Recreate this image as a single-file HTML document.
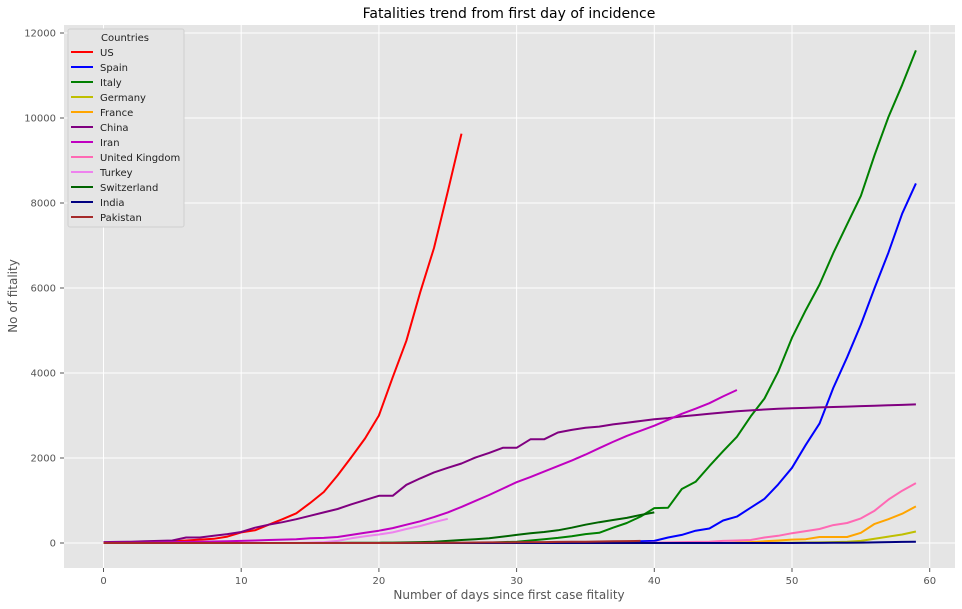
<!DOCTYPE html>
<html><head><meta charset="utf-8">
<style>
body{margin:0;background:#fff;}
svg{display:block;font-family:"DejaVu Sans","Liberation Sans",sans-serif;}
</style></head>
<body>
<svg id="chart" width="962" height="609">
<rect x="64" y="25" width="891" height="543" fill="#e5e5e5"/>
<g id="grid"></g>
<g id="axes"></g>
<g id="lines"></g>
<text x="509" y="18" text-anchor="middle" font-size="14" fill="#000">Fatalities trend from first day of incidence</text>
<text x="509" y="599" text-anchor="middle" font-size="12" fill="#555">Number of days since first case fitality</text>
<text x="17" y="296" text-anchor="middle" font-size="12" fill="#555" transform="rotate(-90 17 296)">No of fitality</text>
<g id="legend"></g>
</svg>
<script>
const xTicks=[0,10,20,30,40,50,60];
const yTicks=[0,2000,4000,6000,8000,10000,12000];
const names=["US","Spain","Italy","Germany","France","China","Iran","United Kingdom","Turkey","Switzerland","India","Pakistan"];
const colors=["#ff0000","#0000ff","#008000","#bfbf00","#ffa500","#800080","#c000c0","#ff69b4","#ee82ee","#006400","#000080","#a52a2a"];
const usVals=[10,12,15,20,25,35,60,80,100,150,250,300,430,560,700,940,1200,1590,2020,2460,3000,3900,4760,5900,6940,8270,9630];
const spainVals=[0,0,0,0,0,0,0,0,0,0,0,0,0,0,0,0,0,0,0,0,0,0,0,0,0,0,0,0,0,0,0,0,0,0,0,0,0,0,10,40,50,130,190,290,340,530,620,830,1040,1380,1770,2310,2810,3650,4370,5140,6000,6830,7750,8460];
const italyVals=[0,0,0,0,0,0,0,0,0,0,0,0,0,0,0,0,0,0,0,0,0,0,0,0,0,0,0,0,10,20,30,60,90,120,160,210,240,360,470,620,820,830,1270,1440,1810,2160,2500,2980,3400,4030,4830,5480,6080,6820,7500,8170,9130,10020,10780,11590];
const germanyVals=[0,0,0,0,0,0,0,0,0,0,0,0,0,0,0,0,0,0,0,0,0,0,0,0,0,0,0,0,0,0,0,0,0,0,0,0,0,0,0,0,0,0,0,0,0,0,0,3,5,8,10,12,14,20,30,50,100,150,200,270];
const franceVals=[0,0,0,0,0,0,0,0,0,0,0,0,0,0,0,0,0,0,0,0,0,0,0,0,0,0,0,0,0,0,0,0,0,0,0,0,0,0,0,0,0,0,0,0,0,0,10,20,40,60,80,90,140,140,140,240,450,560,690,860];
const chinaVals=[20,25,30,40,50,60,130,130,170,210,260,360,430,490,560,640,720,800,910,1010,1110,1110,1370,1520,1660,1770,1870,2010,2120,2240,2240,2440,2440,2600,2660,2710,2740,2790,2830,2870,2910,2940,2980,3010,3040,3070,3100,3120,3140,3160,3170,3180,3190,3200,3210,3220,3230,3240,3250,3260];
const iranVals=[2,4,6,10,15,20,25,30,35,40,50,60,70,80,90,110,120,140,190,240,290,350,430,510,610,720,850,990,1130,1280,1430,1550,1680,1810,1940,2080,2230,2380,2520,2640,2760,2900,3040,3160,3290,3450,3600];
const ukVals=[0,0,0,0,0,0,0,0,0,0,0,0,0,0,0,0,0,0,0,0,0,0,0,0,0,0,0,0,0,0,0,0,0,0,0,0,0,0,0,0,10,15,20,25,30,50,60,70,130,170,230,280,330,420,470,580,760,1020,1230,1410];
const turkeyVals=[0,0,0,0,0,0,0,0,0,0,0,0,0,0,0,10,20,50,110,160,200,250,330,400,490,570];
const swissVals=[0,0,0,0,0,0,0,0,0,0,0,0,0,0,0,0,0,2,4,6,8,10,14,20,30,50,70,90,110,150,190,230,260,300,360,430,490,540,590,660,720];
const indiaVals=[0,0,0,0,0,0,0,0,0,0,0,0,0,0,0,0,0,0,0,0,0,0,0,0,0,0,0,0,0,0,0,0,0,0,0,0,0,0,0,0,0,0,0,0,0,0,0,0,0,0,0,2,3,5,7,10,15,20,25,30];
const pakVals=[0,0,0,0,0,0,0,0,0,0,0,0,0,0,0,0,0,0,0,0,0,1,2,3,5,7,9,11,13,15,17,20,22,25,28,30,35,40,45,50];
const series=[usVals,spainVals,italyVals,germanyVals,franceVals,chinaVals,iranVals,ukVals,turkeyVals,swissVals,indiaVals,pakVals];
const NS="http://www.w3.org/2000/svg";
function xs(d){return 103.5+d*13.77;}
function ys(v){return 543-v*0.0425;}
function mk(t,a,p){const e=document.createElementNS(NS,t);for(const k in a)e.setAttribute(k,a[k]);p.appendChild(e);return e;}
const grid=document.getElementById('grid'),axes=document.getElementById('axes'),lines=document.getElementById('lines'),leg=document.getElementById('legend');
xTicks.forEach(t=>{const x=xs(t);
 const g=mk('line',{x1:x,x2:x,y1:25,y2:568,stroke:'#fff','stroke-width':1},grid);
 
 
 const tk=mk('line',{x1:x,x2:x,y1:568,y2:572,stroke:'#555'},axes);
 
 
 const l=mk('text',{x:x,y:584,'text-anchor':'middle','font-size':10,fill:'#555'},axes);l.textContent=t;
 
 
});
yTicks.forEach(t=>{const y=ys(t);
 const g=mk('line',{x1:64,x2:955,y1:y,y2:y,stroke:'#fff','stroke-width':1},grid);
 
 
 const tk=mk('line',{x1:60,x2:64,y1:y,y2:y,stroke:'#555'},axes);
 
 
 const l=mk('text',{x:56,y:y+3.5,'text-anchor':'end','font-size':10,fill:'#555'},axes);l.textContent=t;
 
 
});
series.forEach((vals,i)=>{
 const pts=vals.map((v,d)=>xs(d).toFixed(1)+','+ys(v).toFixed(1)).join(' ');
 const p=mk('polyline',{points:pts,fill:'none',stroke:colors[i],'stroke-width':2,'stroke-linejoin':'round'},lines);
 
 
});
const box=mk('rect',{x:68,y:29,width:116,height:198,fill:'#e5e5e5',stroke:'#d0d0d0',rx:2},leg);


const lt=mk('text',{x:125,y:41,'text-anchor':'middle','font-size':10,fill:'#222'},leg);lt.textContent='Countries';


names.forEach((n,i)=>{const y=52+i*15;
 const s=mk('line',{x1:71,x2:93,y1:y,y2:y,stroke:colors[i],'stroke-width':2},leg);
 
 
 const t=mk('text',{x:100,y:y+4,'font-size':10,fill:'#222'},leg);t.textContent=n;
 
 
});
</script>
</body></html>
